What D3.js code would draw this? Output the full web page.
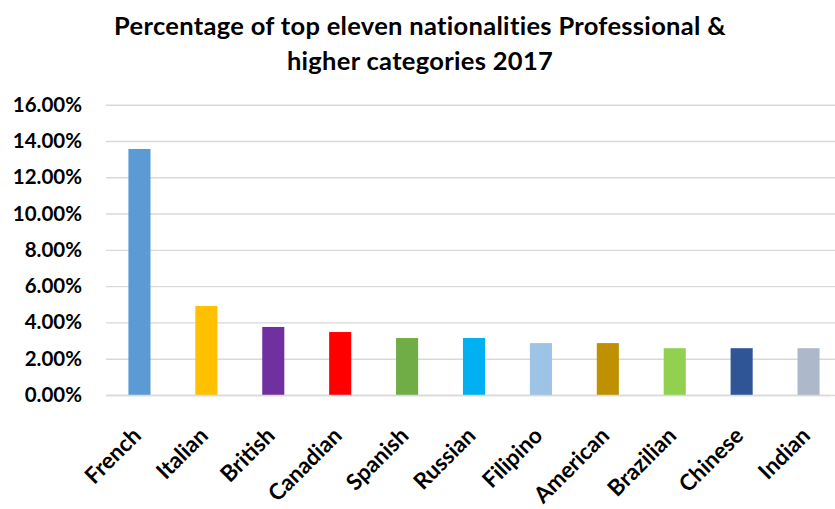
<!DOCTYPE html>
<html>
<head>
<meta charset="utf-8">
<script src="https://cdn.jsdelivr.net/npm/d3@7"></script>
<style>
  html, body { margin: 0; padding: 0; background: #fff; }
  svg { display: block; font-family: Lato, "Open Sans", sans-serif; }
</style>
</head>
<body>
<svg id="chart" width="835" height="509"></svg>
<script>
// Nationalities shown along the x axis
const nationalities = ["French", "Italian", "British", "Canadian", "Spanish", "Russian",
                       "Filipino", "American", "Brazilian", "Chinese", "Indian"];
// Share of Professional & higher categories, in percent
const shares = [13.56, 4.91, 3.75, 3.47, 3.14, 3.14, 2.86, 2.86, 2.58, 2.58, 2.58];
// One fill per nationality
const barColors = ["#5B9BD5", "#FFC000", "#7030A0", "#FF0000", "#70AD47", "#00B0F0",
                   "#9DC3E6", "#BF9000", "#92D050", "#2F5597", "#ADB9CA"];
// Y axis ticks, in percent
const yTicks = [0, 2, 4, 6, 8, 10, 12, 14, 16];
const titleLines = ["Percentage of top eleven nationalities Professional &",
                    "higher categories 2017"];

const svg = d3.select("#chart");
const W = 835;
const plot = { left: 106, right: 842, top: 104.7, bottom: 395 };

const x = d3.scaleBand()
  .domain(nationalities)
  .range([plot.left, plot.right])
  .paddingInner(0.67)
  .paddingOuter(0.335);

const y = d3.scaleLinear()
  .domain([0, 16])
  .range([plot.bottom, plot.top]);

// Title
svg.append("g")
  .selectAll("text")
  .data(titleLines)
  .join("text")
  .attr("x", 420)
  .attr("y", (d, i) => 35 + i * 35)
  .attr("text-anchor", "middle")
  .attr("font-size", 25.5)
  .attr("font-weight", 700)
  .attr("letter-spacing", 0.3)
  .attr("fill", "#000")
  .text(d => d);

// Horizontal gridlines with percentage labels
const yAxis = d3.axisLeft(y)
  .tickValues(yTicks)
  .tickSize(-(W - plot.left))
  .tickPadding(24)
  .tickFormat(d => d.toFixed(2) + "%");

const gy = svg.append("g")
  .attr("transform", `translate(${plot.left},0)`)
  .call(yAxis);
gy.select(".domain").remove();
gy.selectAll(".tick line")
  .attr("stroke", "#d9d9d9")
  .attr("stroke-width", 1.4);
gy.selectAll(".tick text")
  .attr("font-size", 20.5)
  .attr("font-weight", 700)
  .attr("fill", "#000")
  .attr("font-family", "Lato, sans-serif");

// Bars
svg.append("g")
  .selectAll("rect")
  .data(nationalities)
  .join("rect")
  .attr("x", d => x(d))
  .attr("width", x.bandwidth())
  .attr("y", (d, i) => y(shares[i]))
  .attr("height", (d, i) => y(0) - y(shares[i]))
  .attr("fill", (d, i) => barColors[i]);

// Category axis
const xAxis = d3.axisBottom(x).tickSize(0).tickPadding(0);
const gx = svg.append("g")
  .attr("transform", `translate(0,${plot.bottom})`)
  .call(xAxis);
gx.select(".domain")
  .attr("d", `M${plot.left},0.5H830`)
  .attr("stroke", "#d9d9d9")
  .attr("stroke-width", 1.4);
gx.selectAll(".tick text")
  .attr("font-size", 22.5)
  .attr("font-weight", 700)
  .attr("fill", "#000")
  .attr("font-family", "Lato, sans-serif")
  .attr("text-anchor", "end")
  .attr("dy", 0)
  .attr("transform", "translate(3,42) rotate(-45)");
</script>
</body>
</html>
